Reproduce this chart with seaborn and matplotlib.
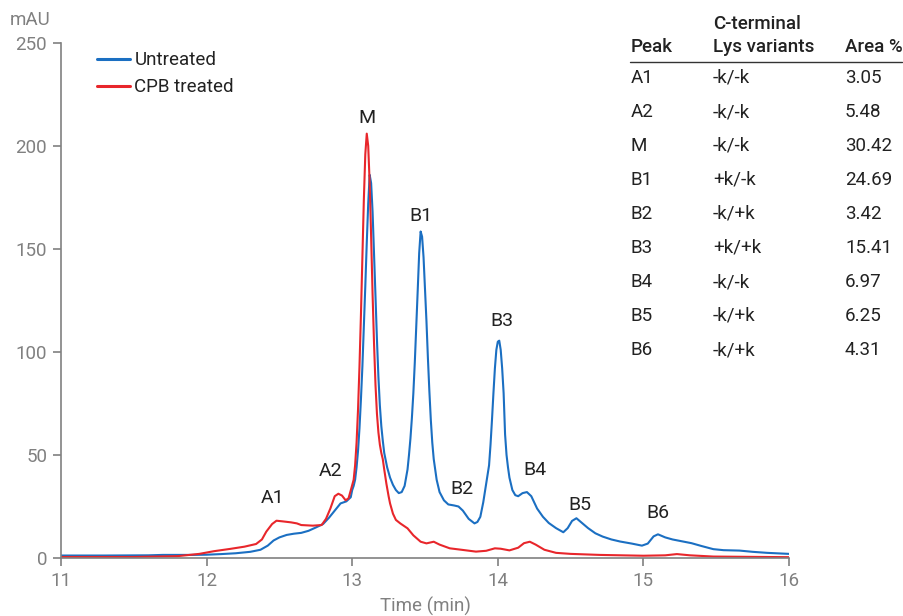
import numpy as np
import pandas as pd
import matplotlib
matplotlib.use("Agg")
import matplotlib.pyplot as plt
import seaborn as sns

# ---- data ----
untreated_t = [11.00, 11.30, 11.60, 11.70, 11.90, 12.00, 12.10, 12.20, 12.30, 12.37,
               12.42, 12.46, 12.50, 12.55, 12.60, 12.65, 12.70, 12.75, 12.80, 12.84,
               12.88, 12.92, 12.96, 12.99,
               13.00, 13.01, 13.02, 13.03, 13.04, 13.05, 13.06, 13.07, 13.08, 13.09,
               13.10, 13.11, 13.12, 13.13, 13.14, 13.15, 13.16, 13.17, 13.18, 13.19,
               13.20, 13.21, 13.22, 13.24, 13.26, 13.28, 13.30, 13.32, 13.34,
               13.36, 13.38, 13.39, 13.40, 13.41, 13.42, 13.43, 13.44, 13.45, 13.46,
               13.47, 13.48, 13.49, 13.50, 13.51, 13.52, 13.53, 13.54, 13.55, 13.56,
               13.58, 13.60, 13.63, 13.66, 13.70, 13.73, 13.76, 13.80, 13.84,
               13.86, 13.88, 13.90, 13.92, 13.94, 13.95, 13.96, 13.97, 13.98, 13.99,
               14.00, 14.01, 14.02, 14.03, 14.04, 14.05, 14.06, 14.07, 14.08, 14.10,
               14.12, 14.14, 14.17, 14.20, 14.23, 14.27, 14.31, 14.35, 14.40, 14.45,
               14.48, 14.51, 14.54, 14.57, 14.62, 14.67, 14.72, 14.78, 14.84, 14.92,
               14.99, 15.03, 15.07, 15.10, 15.15, 15.20, 15.25, 15.33, 15.40, 15.48,
               15.55, 15.66, 15.75, 15.85, 16.00]
untreated_y = [1.2, 1.2, 1.3, 1.5, 1.5, 1.6, 1.9, 2.3, 3.0, 4.0,
               6.0, 8.5, 10.0, 11.2, 11.8, 12.2, 13.2, 14.8, 16.5, 19.5,
               23.0, 26.5, 27.5, 29.5,
               33.0, 35.0, 38.0, 44.0, 52.0, 63.0, 77.0, 93.0, 112.0, 132.0,
               153.0, 172.0, 186.0, 182.0, 168.0, 148.0, 127.0, 106.0, 88.0, 74.0,
               64.0, 57.0, 51.0, 44.0, 39.0, 35.5, 33.0, 31.5, 32.0,
               35.0, 43.0, 50.0, 58.0, 68.0, 80.0, 95.0, 112.0, 130.0, 148.0,
               158.5, 156.0, 146.0, 131.0, 115.0, 97.0, 81.0, 67.0, 56.0, 48.0,
               38.0, 32.0, 28.0, 26.0, 25.5, 25.0, 23.0, 19.0, 16.8,
               17.5, 20.0, 27.0, 36.0, 45.0, 55.0, 67.0, 80.0, 92.0, 101.0,
               105.0, 105.5, 101.0, 92.0, 80.0, 60.0, 50.0, 44.0, 39.0, 33.0,
               30.5, 30.0, 31.5, 32.0, 30.0, 24.0, 20.0, 17.0, 14.5, 12.5,
               14.5, 18.0, 19.3, 17.5, 14.5, 12.0, 10.4, 9.0, 8.0, 7.0,
               6.0, 7.0, 10.5, 11.5, 10.0, 9.0, 8.3, 7.2, 5.8, 4.3,
               3.8, 3.6, 3.0, 2.5, 2.0]

treated_t = [11.00, 11.50, 11.80, 11.95, 12.05, 12.16, 12.26, 12.34, 12.38, 12.41,
             12.45, 12.48, 12.52, 12.58, 12.62, 12.65, 12.73, 12.79, 12.82, 12.85,
             12.88, 12.905, 12.93, 12.955, 12.975, 12.997,
             13.01, 13.02, 13.03, 13.04, 13.05, 13.06, 13.07, 13.08, 13.09, 13.10,
             13.11, 13.12, 13.13, 13.14, 13.15, 13.16, 13.17, 13.18, 13.19, 13.20,
             13.21, 13.22, 13.235, 13.25, 13.26, 13.28, 13.30, 13.33,
             13.38, 13.42, 13.47, 13.51, 13.56, 13.60, 13.67, 13.75,
             13.85, 13.92, 13.98, 14.02, 14.08, 14.14, 14.18, 14.22, 14.26, 14.32,
             14.40, 14.50, 14.70, 15.00, 15.15, 15.23, 15.32, 15.48, 16.00]
treated_y = [0.5, 0.5, 0.9, 2.0, 3.3, 4.4, 5.5, 6.8, 9.0, 12.8,
             16.5, 18.1, 17.8, 17.3, 16.8, 16.0, 15.7, 16.0, 19.0, 24.0,
             30.0, 31.2, 30.3, 28.0, 29.0, 34.6,
             38.0, 45.0, 56.0, 72.0, 93.0, 118.0, 146.0, 174.0, 196.0, 206.0,
             200.0, 182.0, 156.0, 128.0, 104.0, 84.0, 70.0, 61.0, 55.0, 51.0,
             48.0, 43.0, 36.0, 30.0, 26.5, 21.5, 18.5, 16.8,
             14.4, 11.0, 7.9, 7.1, 7.9, 6.5, 4.7, 4.0,
             3.1, 3.5, 4.7, 4.5, 3.7, 5.0, 7.2, 7.9, 6.5, 4.0,
             2.5, 2.0, 1.5, 1.1, 1.3, 1.9, 1.3, 0.7, 0.4]

series_names = ["Untreated", "CPB treated"]

peak_labels = ["A1", "A2", "M", "B1", "B2", "B3", "B4", "B5", "B6"]
peak_label_t = [12.456, 12.854, 13.10, 13.47, 13.754, 14.03, 14.255, 14.565, 15.10]
peak_label_y = [29.1, 42.2, 213.6, 166.0, 33.5, 115.0, 42.7, 25.7, 21.8]

table_peaks = ["A1", "A2", "M", "B1", "B2", "B3", "B4", "B5", "B6"]
table_variants = ["-k/-k", "-k/-k", "-k/-k", "+k/-k", "-k/+k", "+k/+k", "-k/-k", "-k/+k", "-k/+k"]
table_areas = ["3.05", "5.48", "30.42", "24.69", "3.42", "15.41", "6.97", "6.25", "4.31"]

x_ticks = [11, 12, 13, 14, 15, 16]
y_ticks = [0, 50, 100, 150, 200, 250]

# ---- build frame ----
df = pd.concat([
    pd.DataFrame({"t": untreated_t, "y": untreated_y, "s": series_names[0]}),
    pd.DataFrame({"t": treated_t, "y": treated_y, "s": series_names[1]}),
], ignore_index=True)

sns.set_theme(style="ticks")
plt.rcParams["font.family"] = ["Roboto", "DejaVu Sans"]

W, H = 904, 616
fig = plt.figure(figsize=(W / 100, H / 100), dpi=100)
ax = fig.add_axes([61 / W, 1 - 558 / H, (789 - 61) / W, (558 - 43) / H])

palette = {"Untreated": "#1b6fc2", "CPB treated": "#e8262b"}
sns.lineplot(data=df, x="t", y="y", hue="s", hue_order=series_names,
             palette=palette, estimator=None, sort=True, linewidth=1.5, ax=ax)

ax.set_xlim(11, 16)
ax.set_ylim(0, 250)
ax.set_xticks(x_ticks)
ax.set_yticks(y_ticks)
grey = "#808080"
for s in ["top", "right"]:
    ax.spines[s].set_visible(False)
for s in ["left", "bottom"]:
    ax.spines[s].set_color(grey)
    ax.spines[s].set_linewidth(1.2)
ax.tick_params(colors=grey, labelcolor=grey, labelsize=13.5, length=6, width=1.2, pad=4)
ax.set_xlabel("Time (min)", color=grey, fontsize=13.5, labelpad=5)
ax.set_ylabel("")
fig.text(10 / W, 1 - 20 / H, "mAU", color=grey, fontsize=13.5, ha="left", va="center")

for lab, tx, ty in zip(peak_labels, peak_label_t, peak_label_y):
    ax.text(tx, ty, lab, ha="center", va="center", fontsize=14, color="#222222")

leg = ax.legend(frameon=False, loc="upper left", bbox_to_anchor=(0.026, 1.017),
                fontsize=13.5, handlelength=1.75, handletextpad=0.25, labelspacing=0.5)
for t in leg.get_texts():
    t.set_color("#222222")
for h in leg.get_lines():
    h.set_linewidth(2.2)

# ---- table ----
tc = "#222222"
fs = 13.5
col_x = [631 / W, 713 / W, 845 / W]
fig.text(col_x[1], 1 - 24 / H, "C-terminal", fontsize=fs, fontweight="medium", color=tc, va="center")
fig.text(col_x[0], 1 - 47 / H, "Peak", fontsize=fs, fontweight="medium", color=tc, va="center")
fig.text(col_x[1], 1 - 47 / H, "Lys variants", fontsize=fs, fontweight="medium", color=tc, va="center")
fig.text(col_x[2], 1 - 47 / H, "Area %", fontsize=fs, fontweight="medium", color=tc, va="center")
fig.add_artist(plt.Line2D([630 / W, 902 / W], [1 - 62 / H, 1 - 62 / H], color="#333333", lw=1.0))
for i, (p, v, a) in enumerate(zip(table_peaks, table_variants, table_areas)):
    yy = 1 - (78 + 34 * i) / H
    fig.text(col_x[0], yy, p, fontsize=fs, color=tc, va="center")
    fig.text(col_x[1], yy, v, fontsize=fs, color=tc, va="center")
    fig.text(col_x[2], yy, a, fontsize=fs, color=tc, va="center")

fig.savefig("out.png", dpi=100)
